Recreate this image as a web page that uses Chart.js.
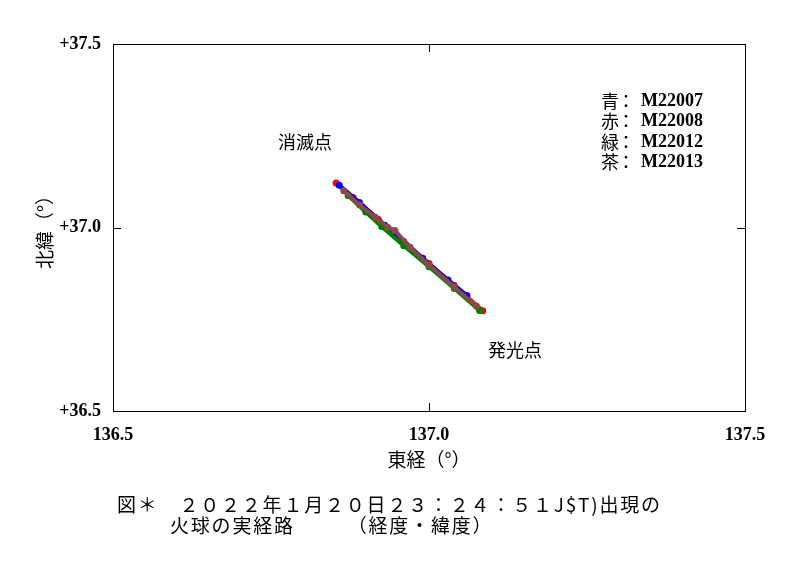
<!DOCTYPE html>
<html><head><meta charset="utf-8">
<script src="https://cdn.jsdelivr.net/npm/chart.js@4/dist/chart.umd.min.js"></script>
<style>html,body{margin:0;padding:0;background:#fff}#w{width:800px;height:569px}</style>
</head><body><div id="w"><canvas id="c"></canvas></div>
<script>
const xTicks=[136.5,137.0,137.5];
const yTicks=[36.5,37.0,37.5];
const yTickLabels=['+36.5','+37.0','+37.5'];
const seriesNames=['M22007','M22008','M22012','M22013'];
const seriesLabelsJa=['青','赤','緑','茶'];
const red=[[136.853,37.121],[136.88,37.082],[136.92,37.022],[136.96,36.962],[137.00,36.902],[137.04,36.842],[137.085,36.773]];
const blue=[[136.858,37.115],[136.89,37.068],[136.93,37.006],[136.946,36.986],[136.99,36.916],[137.03,36.857],[137.06,36.815]];
const green=[[136.872,37.087],[136.90,37.042],[136.925,37.003],[136.96,36.950],[137.00,36.893],[137.04,36.834],[137.08,36.774]];
const brown=[[136.865,37.100],[136.89,37.062],[136.915,37.028],[136.935,37.000],[136.946,36.992],[136.97,36.946],[137.00,36.898],[137.04,36.838],[137.075,36.786]];
const toPts=a=>a.map(p=>({x:p[0],y:p[1]}));
const mk=(d,c,o,w)=>({data:toPts(d),borderColor:c,backgroundColor:c,borderWidth:w,pointRadius:1.5,showLine:true,tension:0,order:o});
const serif='"Liberation Serif","DejaVu Serif",serif';
const jp='"Noto Sans CJK JP",sans-serif';
const deco={id:'deco',afterDraw(ch){
 const g=ch.ctx,a=ch.chartArea,xs=ch.scales.x,ys=ch.scales.y;
 g.save();g.strokeStyle='#000';g.lineWidth=1;
 g.strokeRect(a.left+0.5,a.top+0.5,a.right-a.left,a.bottom-a.top);
 const xm=Math.round(xs.getPixelForValue(137.0))+0.5, ym=Math.round(ys.getPixelForValue(37.0))+0.5;
 g.beginPath();
 g.moveTo(xm,a.top);g.lineTo(xm,a.top+8);g.moveTo(xm,a.bottom);g.lineTo(xm,a.bottom-8);
 g.moveTo(a.left,ym);g.lineTo(a.left+8,ym);g.moveTo(a.right,ym);g.lineTo(a.right-8,ym);
 g.stroke();
 g.fillStyle='#000';g.textBaseline='middle';
 g.font='19px '+jp;g.textAlign='center';
 g.fillText('東経（°）',(a.left+a.right)/2,460);
 g.save();g.translate(45,(a.top+a.bottom)/2);g.rotate(-Math.PI/2);g.fillText('北緯（°）',0,0);g.restore();
 g.textAlign='left';g.font='18px '+jp;
 g.fillText('消滅点',278,142);g.fillText('発光点',488,350);
 for(let i=0;i<4;i++){
  const y=101+i*20.5;
  g.font='18px '+jp;g.fillText(seriesLabelsJa[i],601,y);
  g.fillText('：',617,y);
  g.font='bold 18px '+serif;g.fillText(seriesNames[i],641,y);
 }
 g.font='19px '+jp;g.letterSpacing='1.8px';
 g.fillText('図＊　２０２２年１月２０日２３：２４：５１J$T)出現の',117,505);
 g.fillText('火球の実経路　　　（経度・緯度）',170,526);
 g.restore();
}};
new Chart(document.getElementById('c'),{type:'scatter',
 data:{datasets:[mk(red,'#ff0000',4,4),mk(blue,'#0000ff',3,4),mk(green,'#008000',2,4),mk(brown,'#8b4a4a',1,4)]},
 options:{responsive:true,maintainAspectRatio:false,animation:false,
  layout:{padding:{top:44,right:55,left:0,bottom:0}},
  plugins:{legend:{display:false},tooltip:{enabled:false}},
  scales:{
   x:{type:'linear',min:136.5,max:137.5,afterBuildTicks:s=>{s.ticks=xTicks.map(v=>({value:v}))},
      afterFit:s=>{s.height=158},border:{display:false},grid:{display:false},
      ticks:{padding:6,color:'#000',font:{family:serif,size:18,weight:'bold'},callback:v=>v.toFixed(1)}},
   y:{type:'linear',min:36.5,max:37.5,afterBuildTicks:s=>{s.ticks=yTicks.map(v=>({value:v}))},
      afterFit:s=>{s.width=113},border:{display:false},grid:{display:false},
      ticks:{padding:4,color:'#000',font:{family:serif,size:18,weight:'bold'},callback:v=>yTickLabels[yTicks.indexOf(+v.toFixed(1))]}}
  }},plugins:[deco]});
</script></body></html>
